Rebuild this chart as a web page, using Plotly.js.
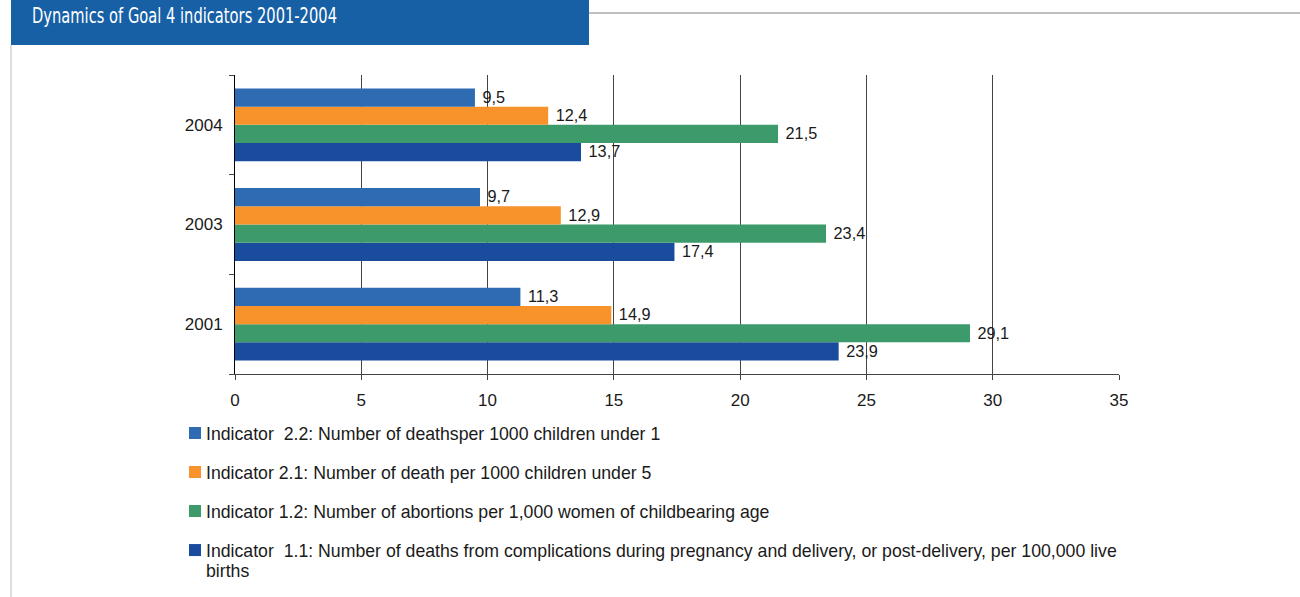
<!DOCTYPE html>
<html>
<head>
<meta charset="utf-8">
<script src="https://cdn.plot.ly/plotly-3.0.1.min.js"></script>
<style>html,body{margin:0;padding:0;background:#fff;}#chart{width:1300px;height:597px;}</style>
</head>
<body>
<div id="chart"></div>
<script>
// ---- data ----
const years = ['2001', '2003', '2004'];
const seriesNames = [
  'Indicator\u00a0 1.1: Number of deaths from complications during pregnancy and delivery, or post-delivery, per 100,000 live<br>births',
  'Indicator 1.2: Number of abortions per 1,000 women of childbearing age',
  'Indicator 2.1: Number of death per 1000 children under 5',
  'Indicator\u00a0 2.2: Number of deathsper 1000 children under 1'
];
const ind11 = [23.9, 17.4, 13.7];
const ind12 = [29.1, 23.4, 21.5];
const ind21 = [14.9, 12.9, 12.4];
const ind22 = [11.3, 9.7, 9.5];
const xTicks = [0, 5, 10, 15, 20, 25, 30, 35];
const chartTitle = 'Dynamics of Goal 4 indicators 2001-2004';

// ---- styling ----
const colors = ['#1a4c9e', '#3d9a6a', '#f7932a', '#2e6bb3'];
const ranks = [4, 3, 2, 1];
const values = [ind11, ind12, ind21, ind22];
const W = 1300, H = 597;
const M = {l: 235, r: 181, t: 75, b: 223, autoexpand: false};
const pw = W - M.l - M.r, ph = H - M.t - M.b;
const px = x => (x - M.l) / pw;
const py = y => (H - M.b - y) / ph;
const FONT = 'Liberation Sans, Arial, sans-serif';

const fmt = v => '\u00a0' + v.toFixed(1).replace('.', ',');

const traces = values.map((vals, i) => ({
  type: 'bar',
  orientation: 'h',
  y: years,
  x: vals,
  name: seriesNames[i],
  legendgroup: 'g' + i,
  legendrank: ranks[i],
  marker: {color: colors[i], line: {width: 0}},
  text: vals.map(fmt),
  textposition: 'outside',
  cliponaxis: false,
  textfont: {family: FONT, size: 17, color: '#1a1a1a'},
  hoverinfo: 'skip'
}));

const layout = {
  width: W, height: H,
  margin: M,
  paper_bgcolor: '#fff',
  plot_bgcolor: '#fff',
  font: {family: FONT, size: 17, color: '#1a1a1a'},
  barmode: 'group',
  bargap: 0.27,
  bargroupgap: 0,
  showlegend: true,
  title: {
    text: chartTitle,
    font: {family: 'DejaVu Sans, sans-serif', size: 22, color: '#ffffff'},
    xref: 'container', yref: 'container',
    x: 32 / W, xanchor: 'left',
    y: 1 - 15 / H, yanchor: 'middle'
  },
  xaxis: {
    range: [0, 35],
    tickvals: xTicks,
    ticktext: xTicks.map(String),
    showgrid: true, gridcolor: '#444', gridwidth: 1,
    zeroline: false,
    showline: true, linecolor: '#444', linewidth: 1,
    ticks: 'outside', ticklen: 5, tickcolor: '#444',
    ticklabelstandoff: 6,
    tickfont: {family: FONT, size: 17, color: '#1a1a1a'},
    fixedrange: true
  },
  yaxis: {
    type: 'category',
    categoryorder: 'array', categoryarray: years,
    showgrid: false, zeroline: false,
    showline: true, linecolor: '#000', linewidth: 1,
    ticks: 'outside', ticklen: 5, tickcolor: '#444',
    tickson: 'boundaries',
    ticklabelstandoff: 8,
    tickfont: {family: FONT, size: 17, color: '#1a1a1a'},
    fixedrange: true
  },
  legend: {
    orientation: 'v',
    traceorder: 'grouped',
    tracegroupgap: 13,
    x: px(166), xanchor: 'left',
    y: py(415), yanchor: 'top',
    font: {family: FONT, size: 17.7, color: '#1a1a1a'},
    bgcolor: 'rgba(0,0,0,0)'
  },
  shapes: [
    {type: 'rect', xref: 'paper', yref: 'paper', x0: px(11), x1: px(589), y0: py(45), y1: py(-5),
     fillcolor: '#1760a5', line: {width: 0}, layer: 'below'},
    {type: 'line', xref: 'paper', yref: 'paper', x0: px(589), x1: px(1305), y0: py(13), y1: py(13),
     line: {color: '#aaaaaa', width: 1.5}},
    {type: 'line', xref: 'paper', yref: 'paper', x0: px(11), x1: px(11), y0: py(45), y1: py(600),
     line: {color: '#bbbbbb', width: 1}}
  ]
};

Plotly.newPlot('chart', traces, layout, {displayModeBar: false, staticPlot: true}).then(() => {
  // condense the banner title to the narrow width of the original typeface
  const t = document.querySelector('#chart .gtitle');
  if (t) {
    t.setAttribute('textLength', '305');
    t.setAttribute('lengthAdjust', 'spacingAndGlyphs');
  }
  // legend symbols sit close to their text; two-line entry: symbol on first line
  document.querySelectorAll('#chart .legend .traces').forEach(g => {
    const txt = g.querySelector('text.legendtext');
    const lines = txt ? txt.querySelectorAll('tspan.line') : [];
    let dy = 0;
    if (lines.length > 1) {
      for (let k = 1; k < lines.length; k++) lines[k].setAttribute('dy', '1.13em');
      dy = -11.5;
    }
    const sym = g.querySelector('.legendpoints');
    if (sym) {
      const tr = sym.getAttribute('transform') || '';
      sym.setAttribute('transform', tr + ' translate(9,' + dy + ')');
    }
  });
});
</script>
</body>
</html>
